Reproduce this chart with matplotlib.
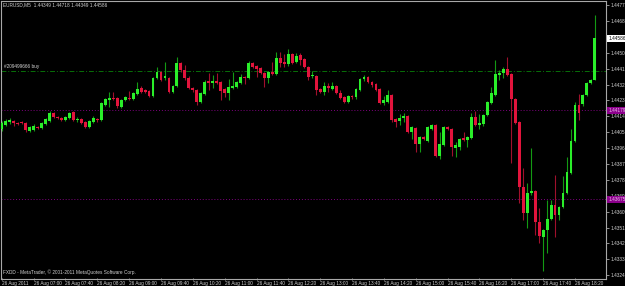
import matplotlib
matplotlib.use('Agg')
import matplotlib.pyplot as plt
import numpy as np

plt.rcParams['font.family'] = ['Liberation Sans', 'DejaVu Sans']

title_text = "EURUSD,M5  1.44349 1.44718 1.44349 1.44586"
footer_text = "FXDD - MetaTrader, \u00a9 2001-2011 MetaQuotes Software Corp."

opens = [1.44072, 1.44094, 1.44111, 1.44117, 1.44106, 1.44111, 1.44106, 1.44060, 1.44066, 1.44083,
         1.44077, 1.44100, 1.44117, 1.44162, 1.44140, 1.44134, 1.44123, 1.44134, 1.44168, 1.44123,
         1.44128, 1.44111, 1.44083, 1.44111, 1.44128, 1.44123, 1.44208, 1.44236, 1.44247, 1.44247,
         1.44196, 1.44236, 1.44247, 1.44242, 1.44270, 1.44304, 1.44293, 1.44287, 1.44259, 1.44361,
         1.44395, 1.44361, 1.44361, 1.44281, 1.44315, 1.44446, 1.44406, 1.44361, 1.44304, 1.44293,
         1.44225, 1.44270, 1.44344, 1.44332, 1.44344, 1.44338, 1.44298, 1.44276, 1.44304, 1.44310,
         1.44332, 1.44366, 1.44361, 1.44446, 1.44429, 1.44418, 1.44389, 1.44361, 1.44395, 1.44383,
         1.44474, 1.44452, 1.44440, 1.44497, 1.44452, 1.44491, 1.44469, 1.44423, 1.44372, 1.44372,
         1.44298, 1.44281, 1.44315, 1.44298, 1.44315, 1.44276, 1.44253, 1.44225, 1.44259, 1.44253,
         1.44293, 1.44355, 1.44366, 1.44338, 1.44327, 1.44298, 1.44219, 1.44225, 1.44264, 1.44128,
         1.44117, 1.44134, 1.44145, 1.44055, 1.44077, 1.43987, 1.44026, 1.44004, 1.44072, 1.44094,
         1.43918, 1.43981, 1.44083, 1.44072, 1.43964, 1.43970, 1.44021, 1.44009, 1.44021, 1.44140,
         1.44094, 1.44100, 1.44151, 1.44219, 1.44264, 1.44378, 1.44389, 1.44412, 1.44383, 1.44242,
         1.44111, 1.43743, 1.43595, 1.43709, 1.43720, 1.43544, 1.43459, 1.43499, 1.43561, 1.43641,
         1.43584, 1.43629, 1.43709, 1.43822, 1.44004, 1.44208, 1.44213, 1.44264, 1.44332, 1.44349]
highs = [1.44117, 1.44128, 1.44134, 1.44123, 1.44111, 1.44117, 1.44111, 1.44089, 1.44100, 1.44089,
         1.44111, 1.44134, 1.44174, 1.44168, 1.44145, 1.44140, 1.44145, 1.44168, 1.44174, 1.44140,
         1.44134, 1.44117, 1.44123, 1.44145, 1.44134, 1.44225, 1.44247, 1.44281, 1.44281, 1.44253,
         1.44242, 1.44259, 1.44287, 1.44281, 1.44338, 1.44315, 1.44298, 1.44293, 1.44366, 1.44423,
         1.44400, 1.44452, 1.44366, 1.44321, 1.44480, 1.44452, 1.44435, 1.44372, 1.44310, 1.44298,
         1.44281, 1.44349, 1.44389, 1.44378, 1.44389, 1.44344, 1.44304, 1.44355, 1.44395, 1.44344,
         1.44383, 1.44372, 1.44457, 1.44452, 1.44435, 1.44423, 1.44395, 1.44400, 1.44452, 1.44508,
         1.44508, 1.44497, 1.44525, 1.44503, 1.44503, 1.44503, 1.44474, 1.44429, 1.44400, 1.44378,
         1.44304, 1.44338, 1.44332, 1.44338, 1.44321, 1.44293, 1.44259, 1.44264, 1.44264, 1.44304,
         1.44361, 1.44378, 1.44372, 1.44344, 1.44332, 1.44304, 1.44259, 1.44293, 1.44270, 1.44134,
         1.44157, 1.44162, 1.44151, 1.44089, 1.44083, 1.44032, 1.44032, 1.44089, 1.44100, 1.44100,
         1.44055, 1.44089, 1.44089, 1.44077, 1.43998, 1.44021, 1.44055, 1.44032, 1.44162, 1.44174,
         1.44157, 1.44157, 1.44230, 1.44310, 1.44463, 1.44406, 1.44423, 1.44480, 1.44389, 1.44247,
         1.44117, 1.43850, 1.43765, 1.43964, 1.43726, 1.43624, 1.43505, 1.43669, 1.43669, 1.43811,
         1.43635, 1.43805, 1.43913, 1.44072, 1.44225, 1.44270, 1.44270, 1.44338, 1.44355, 1.44718]
lows = [1.44060, 1.44089, 1.44100, 1.44089, 1.44094, 1.44100, 1.44055, 1.44055, 1.44060, 1.44072,
        1.44072, 1.44094, 1.44111, 1.44134, 1.44128, 1.44117, 1.44117, 1.44128, 1.44117, 1.44111,
        1.44100, 1.44077, 1.44077, 1.44106, 1.44111, 1.44117, 1.44202, 1.44196, 1.44236, 1.44191,
        1.44191, 1.44230, 1.44236, 1.44236, 1.44264, 1.44276, 1.44276, 1.44253, 1.44253, 1.44355,
        1.44344, 1.44349, 1.44276, 1.44276, 1.44310, 1.44395, 1.44349, 1.44298, 1.44281, 1.44208,
        1.44219, 1.44264, 1.44293, 1.44304, 1.44327, 1.44236, 1.44253, 1.44236, 1.44298, 1.44304,
        1.44327, 1.44327, 1.44355, 1.44418, 1.44366, 1.44383, 1.44310, 1.44332, 1.44378, 1.44378,
        1.44423, 1.44423, 1.44429, 1.44440, 1.44446, 1.44435, 1.44418, 1.44349, 1.44361, 1.44264,
        1.44276, 1.44264, 1.44281, 1.44293, 1.44270, 1.44242, 1.44219, 1.44219, 1.44242, 1.44242,
        1.44287, 1.44344, 1.44332, 1.44310, 1.44287, 1.44213, 1.44208, 1.44219, 1.44111, 1.44083,
        1.44094, 1.44111, 1.44049, 1.44015, 1.43941, 1.43941, 1.44009, 1.43998, 1.44066, 1.43913,
        1.43901, 1.43975, 1.44066, 1.43918, 1.43913, 1.43953, 1.44004, 1.43970, 1.44015, 1.44089,
        1.44072, 1.44089, 1.44145, 1.44213, 1.44259, 1.44349, 1.44361, 1.44372, 1.43879, 1.44100,
        1.43652, 1.43556, 1.43510, 1.43697, 1.43471, 1.43425, 1.43267, 1.43369, 1.43556, 1.43459,
        1.43556, 1.43624, 1.43703, 1.43816, 1.43998, 1.44123, 1.44202, 1.44259, 1.44327, 1.44349]
closes = [1.44106, 1.44117, 1.44123, 1.44106, 1.44100, 1.44106, 1.44066, 1.44083, 1.44089, 1.44077,
          1.44106, 1.44128, 1.44162, 1.44140, 1.44134, 1.44123, 1.44140, 1.44162, 1.44123, 1.44128,
          1.44106, 1.44083, 1.44117, 1.44134, 1.44123, 1.44219, 1.44242, 1.44247, 1.44242, 1.44202,
          1.44236, 1.44253, 1.44242, 1.44276, 1.44298, 1.44281, 1.44281, 1.44259, 1.44361, 1.44395,
          1.44349, 1.44372, 1.44281, 1.44315, 1.44446, 1.44406, 1.44361, 1.44304, 1.44293, 1.44225,
          1.44276, 1.44338, 1.44332, 1.44344, 1.44332, 1.44287, 1.44276, 1.44310, 1.44315, 1.44338,
          1.44366, 1.44361, 1.44446, 1.44423, 1.44412, 1.44389, 1.44361, 1.44395, 1.44383, 1.44474,
          1.44446, 1.44440, 1.44497, 1.44446, 1.44486, 1.44463, 1.44423, 1.44366, 1.44378, 1.44293,
          1.44281, 1.44315, 1.44304, 1.44315, 1.44276, 1.44247, 1.44225, 1.44259, 1.44253, 1.44298,
          1.44355, 1.44366, 1.44338, 1.44321, 1.44293, 1.44219, 1.44236, 1.44264, 1.44123, 1.44111,
          1.44134, 1.44145, 1.44055, 1.44083, 1.43987, 1.44026, 1.44015, 1.44083, 1.44094, 1.43918,
          1.43987, 1.44083, 1.44072, 1.43970, 1.43981, 1.44015, 1.44009, 1.44026, 1.44140, 1.44094,
          1.44106, 1.44151, 1.44225, 1.44276, 1.44383, 1.44389, 1.44412, 1.44378, 1.44242, 1.44106,
          1.43743, 1.43595, 1.43709, 1.43720, 1.43544, 1.43465, 1.43499, 1.43561, 1.43641, 1.43584,
          1.43629, 1.43709, 1.43828, 1.44004, 1.44208, 1.44162, 1.44264, 1.44332, 1.44349, 1.44586]

time_labels = ["26 Aug 2011", "26 Aug 07:00", "26 Aug 07:40", "26 Aug 08:20", "26 Aug 09:00",
               "26 Aug 09:40", "26 Aug 10:20", "26 Aug 11:00", "26 Aug 11:40", "26 Aug 12:20",
               "26 Aug 13:00", "26 Aug 13:40", "26 Aug 14:20", "26 Aug 15:00", "26 Aug 15:40",
               "26 Aug 16:20", "26 Aug 17:00", "26 Aug 17:40", "26 Aug 18:20"]
price_ticks = [1.44775, 1.44685, 1.44595, 1.44505, 1.44415, 1.44325, 1.44235, 1.44145, 1.44055,
               1.43965, 1.43875, 1.43785, 1.43695, 1.43605, 1.43515, 1.43425, 1.43335, 1.43245]

order_price = 1.44402
order_label = "#209499666 buy"
level_prices = [1.44179, 1.43675]
bid_price = 1.44586

FS = 3.4
TXT = '#d0d0d0'
FRAME = '#a8a8a8'

fig = plt.figure(figsize=(6.25, 2.86), dpi=100, facecolor='black')
ax = fig.add_axes([1/625, 7/286, 605/625, 278/286])
ax.set_facecolor('black')

o = np.array(opens); h = np.array(highs); l = np.array(lows); c = np.array(closes)
x = np.arange(len(o))
up = c >= o
wick_col = np.where(up, '#139a13', '#a0102c')
body_col = np.where(up, '#2aee2a', '#e2143c')

ax.vlines(x, l, h, colors=wick_col, linewidth=0.8, zorder=2)
bottom = np.minimum(o, c)
height = np.maximum(np.abs(c - o), 0.00005)
ax.bar(x, height, bottom=bottom, width=0.72, color=body_col, linewidth=0, zorder=3)

ax.axhline(order_price, color='#087008', lw=0.7, dashes=(5, 2, 1, 2), zorder=1)
for lp in level_prices:
    ax.axhline(lp, color='#7e007e', lw=0.7, dashes=(1, 2), zorder=1)

ax.set_xlim(-0.2, 151.8)
ax.set_ylim(1.43224, 1.44798)

for s in ax.spines.values():
    s.set_color(FRAME)
    s.set_linewidth(0.8)

# the tick label under the bid-price box is hidden by it, as in the terminal
ax.yaxis.tick_right()
ax.set_yticks(price_ticks)
ax.set_yticklabels(["" if abs(p - bid_price) < 0.0002 else f"{p:.5f}" for p in price_ticks])
ax.set_xticks(x[::8][:len(time_labels)])
ax.set_xticklabels(time_labels, ha='left')
ax.tick_params(axis='both', colors=FRAME, labelcolor=TXT, labelsize=FS, length=2, width=0.6, pad=1)
ax.tick_params(axis='x', direction='inout', pad=0.5)

ax.annotate(order_label, (0.5, order_price), xytext=(0, 1.2), textcoords='offset points',
            va='bottom', ha='left', fontsize=FS, color=TXT)

ax.annotate(f"{bid_price:.5f}", xy=(1, bid_price), xycoords=('axes fraction', 'data'),
            xytext=(1.6, 0), textcoords='offset points', va='center', ha='left',
            fontsize=FS, color='black', annotation_clip=False, zorder=10,
            bbox=dict(boxstyle='square,pad=0.2', fc='white', ec='none'))
for lp in level_prices:
    ax.annotate(f"{lp:.5f}", xy=(1, lp), xycoords=('axes fraction', 'data'),
                xytext=(1.6, 0), textcoords='offset points', va='center', ha='left',
                fontsize=FS, color='#e8b8e8', annotation_clip=False, zorder=10,
                bbox=dict(boxstyle='square,pad=0.2', fc='#8c008c', ec='none'))

fig.text(3/625, 1 - 5/286, title_text, fontsize=FS, color=TXT, va='center', ha='left')
fig.text(3/625, 1 - 272/286, footer_text, fontsize=FS, color=TXT, va='center', ha='left')

fig.savefig('out.png', dpi=100, facecolor='black')
